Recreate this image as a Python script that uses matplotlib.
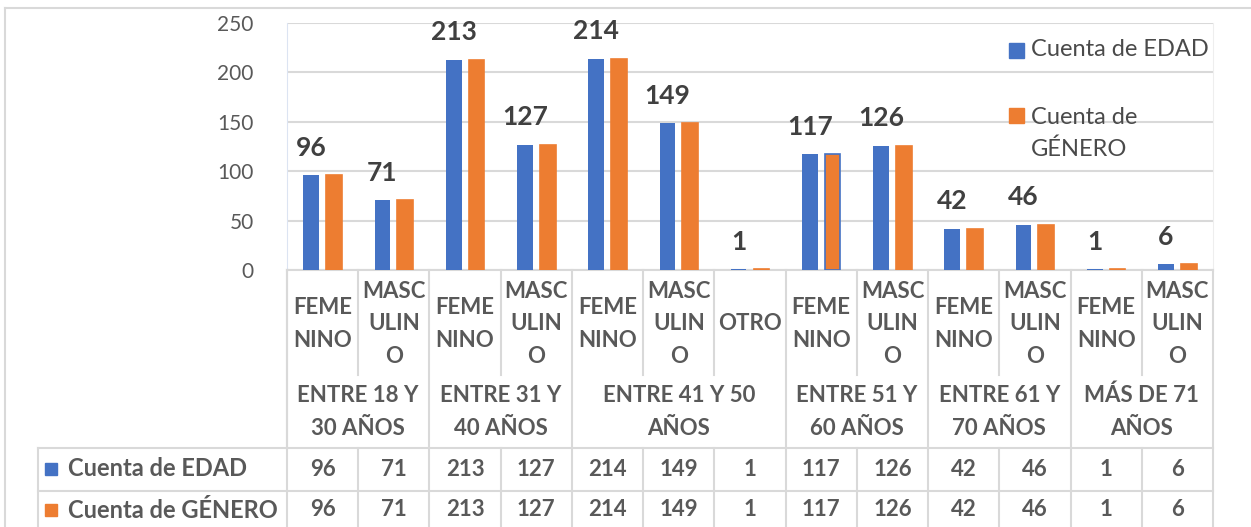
import numpy as np
import matplotlib.pyplot as plt
import matplotlib.transforms as mtransforms
from matplotlib.lines import Line2D
from matplotlib.patches import Rectangle

plt.rcParams['font.family'] = ['Lato', 'DejaVu Sans']

# data
sub_labels = ['FEME\nNINO', 'MASC\nULIN\nO', 'FEME\nNINO', 'MASC\nULIN\nO',
              'FEME\nNINO', 'MASC\nULIN\nO', 'OTRO', 'FEME\nNINO', 'MASC\nULIN\nO',
              'FEME\nNINO', 'MASC\nULIN\nO', 'FEME\nNINO', 'MASC\nULIN\nO']
group_labels = ['ENTRE 18 Y\n30 AÑOS', 'ENTRE 31 Y\n40 AÑOS', 'ENTRE 41 Y 50\nAÑOS',
                'ENTRE 51 Y\n60 AÑOS', 'ENTRE 61 Y\n70 AÑOS', 'MÁS DE 71\nAÑOS']
group_sizes = [2, 2, 3, 2, 2, 2]
cuenta_edad = [96, 71, 213, 127, 214, 149, 1, 117, 126, 42, 46, 1, 6]
cuenta_genero = [96, 71, 213, 127, 214, 149, 1, 117, 126, 42, 46, 1, 6]
series_names = ['Cuenta de EDAD', 'Cuenta de GÉNERO']

BLUE = '#4472C4'
ORANGE = '#ED7D31'
GRID = '#D9D9D9'
TXT = '#595959'

W, H = 1251, 527
fig = plt.figure(figsize=(W / 100, H / 100), dpi=100)

def fy(py):
    return 1 - py / H

ax = fig.add_axes([287 / W, fy(270), (1213 - 287) / W, (270 - 23) / H])

x = np.arange(len(cuenta_edad))
ax.bar(x - 0.16, cuenta_edad, 0.22, color=BLUE, zorder=3)
edges = [BLUE if i == 7 else ORANGE for i in range(len(x))]
ax.bar(x + 0.16, cuenta_genero, 0.22, color=ORANGE, edgecolor=edges, lw=1.2, zorder=3)

for i, v in enumerate(cuenta_edad):
    ax.annotate(str(v), (i - 0.16, v), xytext=(0, 11), textcoords='offset points',
                ha='center', va='bottom', fontsize=19, fontweight='bold', color='#404040')

ax.set_xlim(-0.5, len(x) - 0.5)
ax.set_ylim(0, 250)
ax.set_yticks(range(0, 251, 50))
ax.set_xticks([])
ax.grid(axis='y', color=GRID, lw=1.5, zorder=0)
ax.tick_params(axis='y', length=0, pad=24, labelsize=15, labelcolor=TXT)
ax.spines['top'].set_visible(False)
ax.spines['left'].set_color('#DCE4F2')
ax.spines['right'].set_color('#EEEEEE')
ax.spines['bottom'].set_color(GRID)
ax.spines['bottom'].set_linewidth(1.5)

# legend (inside plot, top right)
fig.add_artist(Rectangle((1009 / W, fy(58)), 15 / W, 15 / H, color=BLUE))
fig.add_artist(Rectangle((1009 / W, fy(123)), 15 / W, 15 / H, color=ORANGE))
fig.text(1031 / W, fy(50), series_names[0], ha='left', va='center', fontsize=17,
         color='#4a4a4a')
fig.text(1031 / W, fy(133), 'Cuenta de\nGÉNERO', ha='left', va='center', fontsize=17,
         color='#4a4a4a', linespacing=1.6)

# data table below the axis
trans = mtransforms.blended_transform_factory(ax.transData, fig.transFigure)

def vline(xd, y0, y1):
    fig.add_artist(Line2D([xd, xd], [fy(y0), fy(y1)], transform=trans, color=GRID, lw=1.5))

bounds = np.concatenate([[0], np.cumsum(group_sizes)])
for k in range(len(x) + 1):
    if k in bounds:
        vline(k - 0.5, 270, 527)
    else:
        vline(k - 0.5, 270, 375)
        vline(k - 0.5, 448, 527)

fig.add_artist(Line2D([38 / W, 1213 / W], [fy(448)] * 2, color=GRID, lw=1.5))
fig.add_artist(Line2D([38 / W, 1213 / W], [fy(491)] * 2, color=GRID, lw=1.5))
fig.add_artist(Line2D([38 / W, 38 / W], [fy(448), fy(527)], color=GRID, lw=1.5))
fig.add_artist(Line2D([287 / W, 287 / W], [fy(270), fy(448)], color=GRID, lw=1.5))

# outer chart border
fig.add_artist(Line2D([5 / W, 1], [fy(8)] * 2, color=GRID, lw=1.5))
fig.add_artist(Line2D([5 / W, 5 / W], [fy(8), 0], color=GRID, lw=1.5))

for i, lab in enumerate(sub_labels):
    fig.text(i, fy(324), lab, transform=trans, ha='center', va='center', fontsize=16,
             fontweight='bold', color=TXT, linespacing=1.68)

for g, lab in enumerate(group_labels):
    c = (bounds[g] + bounds[g + 1] - 1) / 2
    fig.text(c, fy(412), lab, transform=trans, ha='center', va='center', fontsize=16,
             fontweight='bold', color=TXT, linespacing=1.68)

rows = [cuenta_edad, cuenta_genero]
row_y = [469, 510]
for r, (vals, name, col) in enumerate(zip(rows, series_names, [BLUE, ORANGE])):
    fig.add_artist(Rectangle((45 / W, fy(row_y[r] + 6)), 12 / W, 12 / H, color=col))
    fig.text(68 / W, fy(row_y[r]), name, ha='left', va='center', fontsize=17,
             fontweight='bold', color=TXT)
    for i, v in enumerate(vals):
        fig.text(i, fy(row_y[r]), str(v), transform=trans, ha='center', va='center',
                 fontsize=16, fontweight='bold', color=TXT)

fig.savefig('out.png', dpi=100)
